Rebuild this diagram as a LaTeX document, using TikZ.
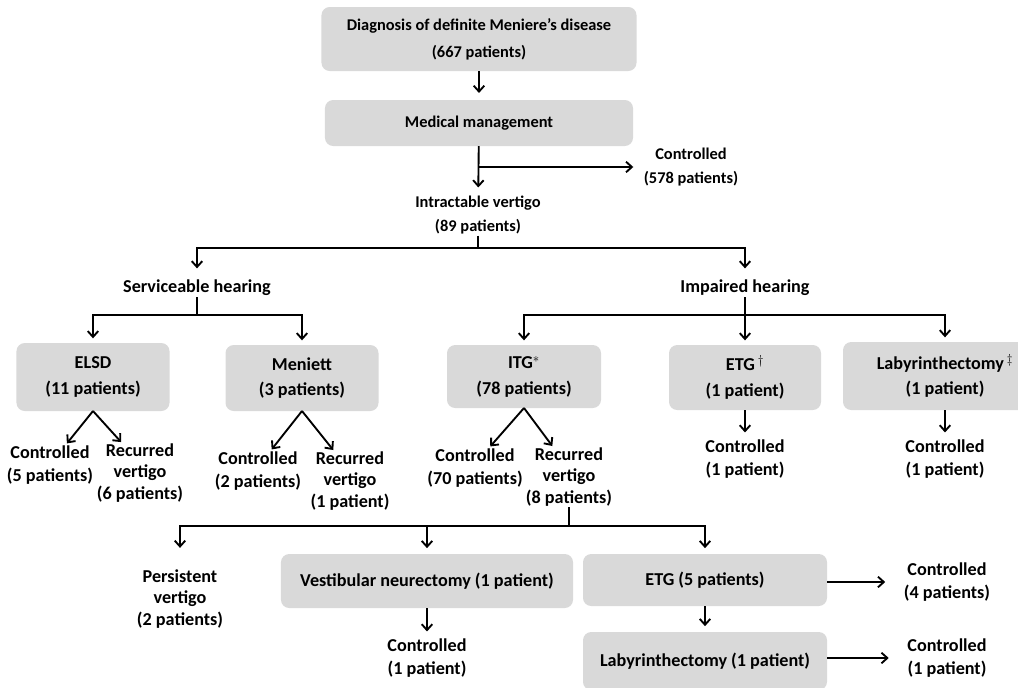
\documentclass[tikz,border=0pt]{standalone}
\usepackage{fontspec}
\setmainfont{Carlito}
\usetikzlibrary{shapes.geometric, arrows.meta, positioning}

\begin{document}
\begin{tikzpicture}[x=0.03cm,y=-0.03cm,outer sep=0pt,font=\bfseries\fontsize{15.5}{20}\selectfont]
\tikzstyle{box} = [rounded corners=7pt, rectangle, fill=gray!30, align=center, inner sep=0pt, font=\bfseries\fontsize{15.5}{22}\selectfont]
\tikzstyle{txt} = [align=center, inner sep=1pt]
\tikzstyle{tall} = [txt, font=\bfseries\fontsize{15.5}{18}\selectfont]
\tikzstyle{head} = [font=\bfseries\fontsize{14}{21}\selectfont]
\tikzstyle{line} = [line width=1.6pt]
\tikzstyle{arrow} = [line width=1.6pt,-{Straight Barb[length=5pt,width=9pt]}]

\useasboundingbox (0,0) rectangle (1018,687);

% Diagnosis and medical management
\node[box, head, minimum width=9.45cm, minimum height=1.92cm, font=\bfseries\fontsize{14}{23}\selectfont] (diag) at (479,39) {Diagnosis of definite Meniere’s disease\\(667 patients)};
\node[box, head, minimum width=9.24cm, minimum height=1.38cm] (med) at (479,123) {Medical management};
\node[txt, head, font=\bfseries\fontsize{14}{20}\selectfont] (ctrlmed) at (691,167) {Controlled\\(578 patients)};
\node[txt, head] (intract) at (478,215) {Intractable vertigo\\(89 patients)};
\coordinate (hearsplit) at (478,248);

% Hearing
\node[txt] (serv) at (197,288) {Serviceable hearing};
\node[txt] (impair) at (745,288) {Impaired hearing};
\coordinate (servsplit) at (197,315);
\coordinate (impsplit) at (745,315);

% Serviceable hearing treatments
\node[box, minimum width=4.59cm, minimum height=2.04cm] (elsd) at (93,377) {ELSD\\(11 patients)};
\node[box, minimum width=4.59cm, minimum height=1.98cm] (meniett) at (302,378) {Meniett\\(3 patients)};
\node[txt] (ctrlelsd) at (50,465) {Controlled\\(5 patients)};
\node[tall] (recelsd) at (140,473) {Recurred\\vertigo\\(6 patients)};
\node[txt] (ctrlmen) at (258,471) {Controlled\\(2 patients)};
\node[tall] (recmen) at (350,481) {Recurred\\vertigo\\(1 patient)};

% Impaired hearing treatments
\node[box, minimum width=4.62cm, minimum height=1.89cm] (itg) at (524,376.5) {ITG$^{\ast}$\\(78 patients)};
\node[box, minimum width=4.56cm, minimum height=1.95cm] (etg) at (745,377.5) {ETG\,$^{\dagger}$\\(1 patient)};
\node[box, minimum width=6.12cm, minimum height=2.04cm] (laby) at (945,376) {Labyrinthectomy\,$^{\ddagger}$\\(1 patient)};
\node[txt] (ctrlitg) at (475,468) {Controlled\\(70 patients)};
\node[tall] (recitg) at (569,477) {Recurred\\vertigo\\(8 patients)};
\node[txt] (ctrletg) at (745,459) {Controlled\\(1 patient)};
\node[txt] (ctrllaby) at (945,459) {Controlled\\(1 patient)};
\coordinate (recsplit) at (569,526);

% Recurred vertigo after ITG
\node[tall] (persist) at (180,599) {Persistent\\vertigo\\(2 patients)};
\node[box, minimum width=8.76cm, minimum height=1.62cm] (vn) at (427,581) {Vestibular neurectomy (1 patient)};
\node[txt] (ctrlvn) at (427,658) {Controlled\\(1 patient)};
\node[box, minimum width=7.32cm, minimum height=1.56cm] (etgfive) at (705,580) {ETG (5 patients)};
\node[txt] (ctrlfive) at (947,582) {Controlled\\(4 patients)};
\node[box, minimum width=7.32cm, minimum height=1.74cm] (labyone) at (705,661) {Labyrinthectomy (1 patient)};
\node[txt] (ctrlone) at (947,658) {Controlled\\(1 patient)};

% Connectors
\draw [arrow] [shorten >=6pt] (diag) -- (med);
\draw [arrow] [shorten >=6pt] (med) -- (intract);
\draw [arrow] [shorten >=8pt] (med.south |- ctrlmed) -- (ctrlmed);
\draw [line] (intract) -- (hearsplit);
\draw [arrow] [shorten >=9pt] (hearsplit) -| (serv);
\draw [arrow] [shorten >=9pt] (hearsplit) -| (impair);

\draw [line] (serv) -- (servsplit);
\draw [arrow] [shorten >=4pt] (servsplit) -| (elsd);
\draw [arrow] [shorten >=4pt] (servsplit) -| (meniett);
\draw [line] (impair) -- (impsplit);
\draw [arrow] [shorten >=4pt] (impsplit) -| (itg);
\draw [arrow] [shorten >=4pt] (impsplit) -- (etg);
\draw [arrow] [shorten >=4pt] (impsplit) -| (laby);

\draw [arrow] [shorten >=1pt] (elsd.south) -- (ctrlelsd.52);
\draw [arrow] [shorten >=1pt] (elsd.south) -- (recelsd.121);
\draw [arrow] [shorten >=1pt] (meniett.south) -- (ctrlmen.58);
\draw [arrow] [shorten >=1pt] (meniett.south) -- (recmen.118);
\draw [arrow] [shorten >=1pt] (itg.south) -- (ctrlitg.55);
\draw [arrow] [shorten >=1pt] (itg.south) -- (recitg.118);
\draw [arrow] [shorten >=5pt] (etg) -- (ctrletg);
\draw [arrow] [shorten >=5pt] (laby) -- (ctrllaby);

\draw [line] (recitg) -- (recsplit);
\draw [arrow] [shorten >=18pt] (recsplit) -| (persist);
\draw [arrow] [shorten >=5pt] (recsplit) -| (vn);
\draw [arrow] [shorten >=5pt] (recsplit) -| (etgfive);
\draw [arrow] [shorten >=5pt] (vn) -- (ctrlvn);
\draw [arrow] [shorten >=5pt] (etgfive) -- (labyone);
\draw [arrow] [shorten >=15pt] (etgfive.east |- ctrlfive) -- (ctrlfive);
\draw [arrow] [shorten >=15pt] (labyone.east |- ctrlone) -- (ctrlone);
\end{tikzpicture}
\end{document}
